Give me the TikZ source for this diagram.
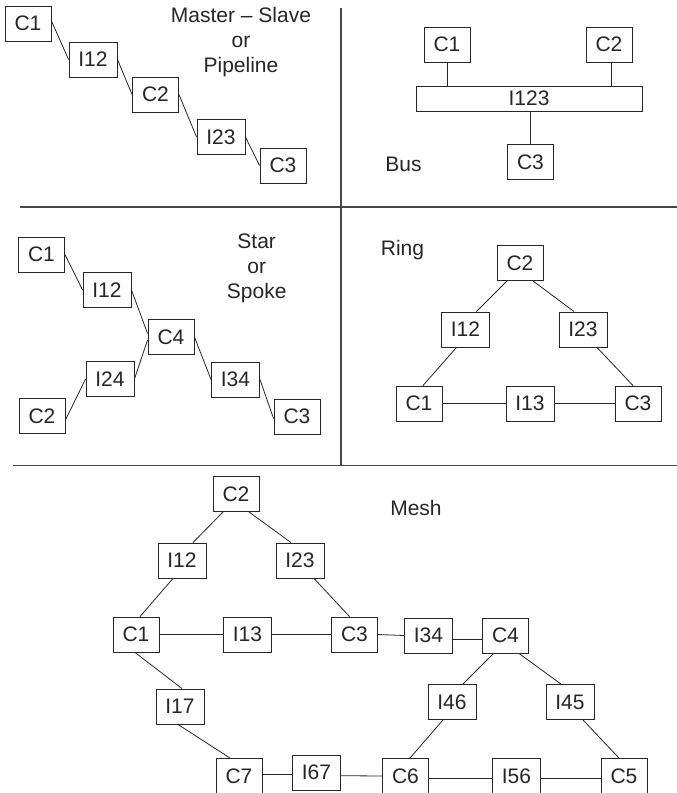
\documentclass[tikz,border=0pt]{standalone}
\usepackage{fontspec}
\setmainfont{Liberation Sans}
\definecolor{ink}{gray}{0.15}
\definecolor{rulegray}{gray}{0.28}
\begin{document}
\begin{tikzpicture}[x=1pt,y=-1pt,
  every node/.style={font=\fontsize{21}{25}\selectfont, text=ink},
  box/.style={draw=ink, line width=0.9pt, minimum width=46pt, minimum height=35pt, inner sep=0pt, fill=white},
  ibox/.style={box, minimum width=48pt},
  link/.style={draw=ink, line width=0.8pt},
  divider/.style={draw=rulegray, line width=1.8pt},
  heading/.style={align=center, inner sep=0pt}]

% page frame
\fill[white] (0,0) rectangle (677,793);
\useasboundingbox (0,0) rectangle (677,793);

% panel dividers
\draw[divider] (341,8) -- (341,465.5);
\draw[divider] (20,207) -- (677,207);
\draw[divider] (13,465.5) -- (677,465.5);

% ---------------- Master - Slave / Pipeline ----------------
\node[heading, anchor=north] (pTitle) at (241,7) {Master – Slave\\or\\Pipeline};
\node[box]  (pC1)  at (28,23.5)    {C1};
\node[ibox] (pI12) at (93,59.5)    {I12};
\node[box]  (pC2)  at (155.5,94.5) {C2};
\node[ibox] (pI23) at (221,137)    {I23};
\node[box]  (pC3)  at (283,165.5)  {C3};
\draw[link] ([yshift=2.5pt]pC1.east) -- (pI12.west);
\draw[link] (pI12.east) -- (pC2.west);
\draw[link] (pC2.east) -- (pI23.west);
\draw[link] (pI23.east) -- (pC3.west);

% ---------------- Bus ----------------
\node[box]  (bC1) at (447,44.5) {C1};
\node[box]  (bC2) at (609,44.5) {C2};
\node[box, minimum width=226pt, minimum height=25pt] (bI) at (529,98.5) {I123};
\node[box]  (bC3) at (530.5,162) {C3};
\node[inner sep=0pt, anchor=base] (bLabel) at (403.5,171.5) {Bus};
\draw[link] (bC1.south) -- (bC1.south |- bI.north);
\draw[link] ([xshift=2pt]bC2.south) -- ([xshift=2pt]bC2.south |- bI.north);
\draw[link] (bC3.north) -- (bC3.north |- bI.south);

% ---------------- Star / Spoke ----------------
\node[heading, anchor=north] (sTitle) at (256.7,234) {Star\\or\\Spoke};
\node[box]  (sC1)  at (41.5,254.5)  {C1};
\node[ibox] (sI12) at (107,290)     {I12};
\node[box]  (sC4)  at (171,337)     {C4};
\node[ibox] (sI24) at (110,379)     {I24};
\node[box]  (sC2)  at (42,416)      {C2};
\node[ibox] (sI34) at (235.5,379.5) {I34};
\node[box]  (sC3)  at (297,416.5)   {C3};
\draw[link] (sC1.east) -- (sI12.west);
\draw[link] (sI12.east) -- ([yshift=3.5pt]sC4.west);
\draw[link] ([yshift=-3pt]sC4.west) -- (sI24.east);
\draw[link] (sI24.west) -- ([yshift=-4pt]sC2.east);
\draw[link] (sC4.east) -- (sI34.west);
\draw[link] (sI34.east) -- ([yshift=-2pt]sC3.west);

% ---------------- Ring ----------------
\node[inner sep=0pt, anchor=base] (rLabel) at (402.5,255) {Ring};
\node[box]  (rC2)  at (520,263)     {C2};
\node[ibox] (rI12) at (465.5,329.5) {I12};
\node[ibox] (rI23) at (583,329.5)   {I23};
\node[box]  (rC1)  at (419,403.5)   {C1};
\node[ibox] (rI13) at (530,403.5)   {I13};
\node[box]  (rC3)  at (638,403.5)   {C3};
\draw[link] ([xshift=-13pt]rC2.south) -- ([xshift=11pt]rI12.north);
\draw[link] ([xshift=-9pt]rI12.south) -- ([xshift=4pt]rC1.north);
\draw[link] ([xshift=13pt]rC2.south) -- ([xshift=-9pt]rI23.north);
\draw[link] ([xshift=14pt]rI23.south) -- ([xshift=-5pt]rC3.north);
\draw[link] (rC1.east) -- (rI13.west);
\draw[link] (rI13.east) -- (rC3.west);

% ---------------- Mesh ----------------
\node[inner sep=0pt, anchor=base] (mLabel) at (416,515) {Mesh};
\node[box]  (mC2)  at (236,494)     {C2};
\node[ibox] (mI12) at (182,560.5)   {I12};
\node[ibox] (mI23) at (300,560.5)   {I23};
\node[box]  (mC1)  at (136,634.5)   {C1};
\node[ibox] (mI13) at (247.5,634.5) {I13};
\node[box]  (mC3)  at (354.5,634.5) {C3};
\node[ibox] (mI34) at (428.5,635.5) {I34};
\node[box]  (mC4)  at (505.5,635.5) {C4};
\node[ibox] (mI17) at (180,706.5)   {I17};
\node[ibox] (mI46) at (452,702)     {I46};
\node[ibox] (mI45) at (570,702)     {I45};
\node[box]  (mC7)  at (239,776)     {C7};
\node[ibox] (mI67) at (316.5,772.5) {I67};
\node[box]  (mC6)  at (405.5,776)   {C6};
\node[ibox] (mI56) at (516.5,776)   {I56};
\node[box]  (mC5)  at (624,776)     {C5};
\draw[link] ([xshift=-13pt]mC2.south) -- ([xshift=11pt]mI12.north);
\draw[link] ([xshift=13pt]mC2.south) -- ([xshift=-9pt]mI23.north);
\draw[link] ([xshift=-9pt]mI12.south) -- ([xshift=4pt]mC1.north);
\draw[link] ([xshift=14pt]mI23.south) -- ([xshift=-5pt]mC3.north);
\draw[link] (mC1.east) -- (mI13.west);
\draw[link] (mI13.east) -- (mC3.west);
\draw[link] (mC3.east) -- (mI34.west);
\draw[link] ([yshift=-3.5pt]mI34.east) -- ([yshift=-3.5pt]mC4.west);
\draw[link] ([xshift=-1pt]mC1.south) -- ([xshift=2pt]mI17.north);
\draw[link] ([xshift=-2pt]mI17.south) -- ([xshift=-9pt]mC7.north);
\draw[link] ([xshift=-12pt]mC4.south) -- ([xshift=11pt]mI46.north);
\draw[link] ([xshift=-9pt]mI46.south) -- ([xshift=4.5pt]mC6.north);
\draw[link] ([xshift=13.5pt]mC4.south) -- ([xshift=-9pt]mI45.north);
\draw[link] ([xshift=13pt]mI45.south) -- ([xshift=-5pt]mC5.north);
\draw[link] ([yshift=1.7pt]mC7.east) -- ([yshift=-1.8pt]mI67.west);
\draw[link] ([yshift=-3.2pt]mI67.east) -- (mC6.west);
\draw[link] ([yshift=-2.3pt]mC6.east) -- ([yshift=-2.3pt]mI56.west);
\draw[link] ([yshift=-2.3pt]mI56.east) -- ([yshift=-2.3pt]mC5.west);
\end{tikzpicture}
\end{document}
